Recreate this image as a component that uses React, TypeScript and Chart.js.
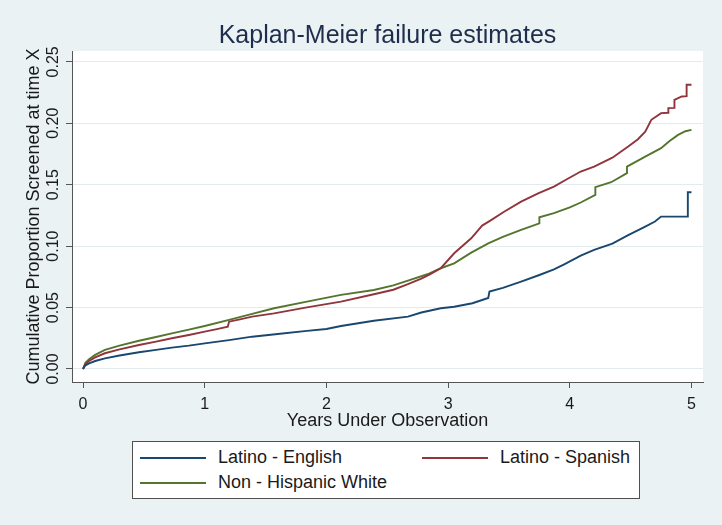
import React, { useEffect, useRef } from "react";
import { Chart, registerables } from "chart.js";

Chart.register(...registerables);

// ---------- data ----------
const xTicks = [0, 1, 2, 3, 4, 5];
const yTicks = [0, 0.05, 0.1, 0.15, 0.2, 0.25];

const englishTime = [0, 0.02, 0.05, 0.1, 0.18, 0.3, 0.46, 0.6, 0.73, 0.87, 1.0, 1.2, 1.39, 1.6, 1.84, 2.0, 2.12, 2.39, 2.67, 2.78, 2.94, 3.05, 3.2, 3.33, 3.34, 3.45, 3.6, 3.75, 3.87, 3.95, 4.09, 4.2, 4.35, 4.48, 4.62, 4.7, 4.75, 4.97, 4.97, 5.0];
const englishValue = [0, 0.003, 0.0045, 0.0065, 0.0087, 0.011, 0.0136, 0.0156, 0.0174, 0.019, 0.0209, 0.0235, 0.0263, 0.0285, 0.031, 0.0326, 0.035, 0.0393, 0.0426, 0.046, 0.0494, 0.0507, 0.0535, 0.0578, 0.063, 0.066, 0.0711, 0.0765, 0.081, 0.085, 0.0923, 0.0969, 0.102, 0.109, 0.1159, 0.12, 0.124, 0.124, 0.1439, 0.1439];

const spanishTime = [0, 0.02, 0.05, 0.1, 0.18, 0.3, 0.46, 0.6, 0.73, 0.87, 1.0, 1.1, 1.19, 1.2, 1.29, 1.39, 1.57, 1.84, 2.12, 2.39, 2.55, 2.67, 2.78, 2.85, 2.94, 3.05, 3.19, 3.28, 3.35, 3.46, 3.6, 3.74, 3.87, 3.95, 4.09, 4.2, 4.35, 4.48, 4.56, 4.62, 4.67, 4.75, 4.81, 4.81, 4.86, 4.86, 4.92, 4.96, 4.96, 5.0];
const spanishValue = [0, 0.004, 0.0065, 0.0095, 0.0128, 0.016, 0.0195, 0.0223, 0.025, 0.0277, 0.0304, 0.0325, 0.0345, 0.0385, 0.0404, 0.0426, 0.0453, 0.0502, 0.0548, 0.0608, 0.0645, 0.069, 0.0735, 0.077, 0.082, 0.0942, 0.1064, 0.1167, 0.121, 0.128, 0.1362, 0.143, 0.1485, 0.153, 0.1607, 0.1647, 0.172, 0.181, 0.187, 0.1932, 0.2028, 0.2082, 0.2085, 0.2123, 0.2125, 0.219, 0.2218, 0.222, 0.2313, 0.2313];

const whiteTime = [0, 0.02, 0.05, 0.1, 0.18, 0.3, 0.46, 0.6, 0.73, 0.87, 1.0, 1.2, 1.39, 1.57, 1.84, 2.12, 2.39, 2.55, 2.67, 2.83, 2.94, 3.05, 3.19, 3.33, 3.45, 3.6, 3.75, 3.75, 3.87, 4.0, 4.09, 4.21, 4.21, 4.34, 4.47, 4.47, 4.62, 4.75, 4.82, 4.89, 4.95, 5.0];
const whiteValue = [0, 0.005, 0.008, 0.0115, 0.0155, 0.019, 0.023, 0.026, 0.029, 0.032, 0.035, 0.04, 0.0448, 0.0494, 0.0548, 0.0603, 0.0643, 0.068, 0.0719, 0.0771, 0.082, 0.086, 0.0947, 0.1023, 0.1075, 0.1132, 0.1186, 0.1235, 0.1268, 0.1315, 0.1355, 0.1417, 0.148, 0.152, 0.1594, 0.1647, 0.1729, 0.1797, 0.1855, 0.1905, 0.1935, 0.1946];

const seriesLabels = ["Latino - English", "Latino - Spanish", "Non - Hispanic White"];
const seriesColors = ["#1A476F", "#90353B", "#55752F"];
const seriesTimes = [englishTime, spanishTime, whiteTime];
const seriesValues = [englishValue, spanishValue, whiteValue];

const titleText = "Kaplan-Meier failure estimates";
const xTitle = "Years Under Observation";
const yTitle = "Cumulative Proportion Screened at time X";

// ---------- style ----------
const FONT = '"Liberation Sans", Arial, Helvetica, sans-serif';
const BG = "#EAF2F3";
const GRID = "#E2EBED";
const AXIS = "#555555";
const TXT = "#1a1a1a";

const plotBg = {
  id: "plotBg",
  beforeDraw(c: any) {
    const { ctx, chartArea: a } = c;
    ctx.save();
    ctx.fillStyle = "#ffffff";
    ctx.fillRect(a.left, a.top, a.right - a.left, a.bottom - a.top);
    ctx.restore();
  },
};

export default function App() {
  const ref = useRef<HTMLCanvasElement | null>(null);

  useEffect(() => {
    if (!ref.current) return;
    const chart = new Chart(ref.current, {
      type: "line",
      data: {
        datasets: seriesLabels.map((label, i) => ({
          label,
          data: seriesTimes[i].map((t, j) => ({ x: t, y: seriesValues[i][j] })),
          borderColor: seriesColors[i],
          backgroundColor: seriesColors[i],
          borderWidth: 1.9,
          pointRadius: 0,
          fill: false,
          tension: 0,
        })),
      },
      options: {
        animation: false,
        responsive: false,
        events: [],
        layout: { padding: { left: 0, right: 19, top: 51, bottom: 93 } },
        plugins: {
          legend: { display: false },
          title: { display: false },
          tooltip: { enabled: false },
        },
        scales: {
          x: {
            type: "linear",
            min: -0.0904,
            max: 5.0946,
            afterBuildTicks: (s: any) => {
              s.ticks = xTicks.map((v) => ({ value: v }));
            },
            afterFit: (s: any) => {
              s.height = 50;
            },
            grid: { drawOnChartArea: false, drawTicks: true, tickLength: 6, tickColor: AXIS, tickWidth: 1 },
            border: { display: true, color: AXIS, width: 1 },
            ticks: {
              font: { family: FONT, size: 16 },
              color: TXT,
              padding: 7,
              maxRotation: 0,
              autoSkip: false,
              callback: (v: any) => String(v),
            },
            title: {
              display: true,
              text: xTitle,
              font: { family: FONT, size: 18 },
              color: TXT,
              padding: { top: 0, bottom: 0 },
            },
          },
          y: {
            type: "linear",
            min: -0.01058,
            max: 0.2588,
            afterBuildTicks: (s: any) => {
              s.ticks = yTicks.map((v) => ({ value: v }));
            },
            afterFit: (s: any) => {
              s.width = 72;
            },
            grid: { color: GRID, lineWidth: 1, drawTicks: true, tickLength: 6, tickColor: AXIS, tickWidth: 1 },
            border: { display: true, color: AXIS, width: 1 },
            ticks: {
              font: { family: FONT, size: 16 },
              color: TXT,
              minRotation: 90,
              maxRotation: 90,
              crossAlign: "center",
              padding: -3,
              autoSkip: false,
              callback: (v: any) => Number(v).toFixed(2),
            },
            title: {
              display: true,
              text: yTitle,
              font: { family: FONT, size: 18 },
              color: TXT,
              padding: { top: 23, bottom: 0 },
            },
          },
        },
      },
      plugins: [plotBg],
    } as any);
    return () => chart.destroy();
  }, []);

  const legendPos = [
    { left: 7, top: 3 },
    { left: 289, top: 3 },
    { left: 7, top: 28 },
  ];

  return (
    <div
      style={{
        position: "fixed",
        left: 0,
        top: 0,
        width: 722,
        height: 525,
        background: BG,
        fontFamily: FONT,
        overflow: "hidden",
      }}
    >
      <canvas ref={ref} width={722} height={525} style={{ display: "block", position: "absolute", left: 0, top: 0 }} />
      <div
        style={{
          position: "absolute",
          left: 72,
          width: 631,
          top: 19,
          fontSize: 25,
          lineHeight: "30px",
          textAlign: "center",
          color: "#1f2d4d",
          whiteSpace: "nowrap",
        }}
      >
        {titleText}
      </div>
      <div
        style={{
          position: "absolute",
          left: 132,
          top: 441,
          width: 508,
          height: 58,
          boxSizing: "border-box",
          border: "1px solid #505050",
          background: "#ffffff",
        }}
      >
        {seriesLabels.map((label, i) => (
          <div
            key={label}
            style={{
              position: "absolute",
              left: legendPos[i].left,
              top: legendPos[i].top,
              height: 25,
              display: "flex",
              alignItems: "center",
              whiteSpace: "nowrap",
              fontSize: 18,
              color: TXT,
            }}
          >
            <span style={{ display: "inline-block", width: 66, height: 0, borderTop: `2px solid ${seriesColors[i]}`, marginRight: 12 }} />
            <span>{label}</span>
          </div>
        ))}
      </div>
    </div>
  );
}
